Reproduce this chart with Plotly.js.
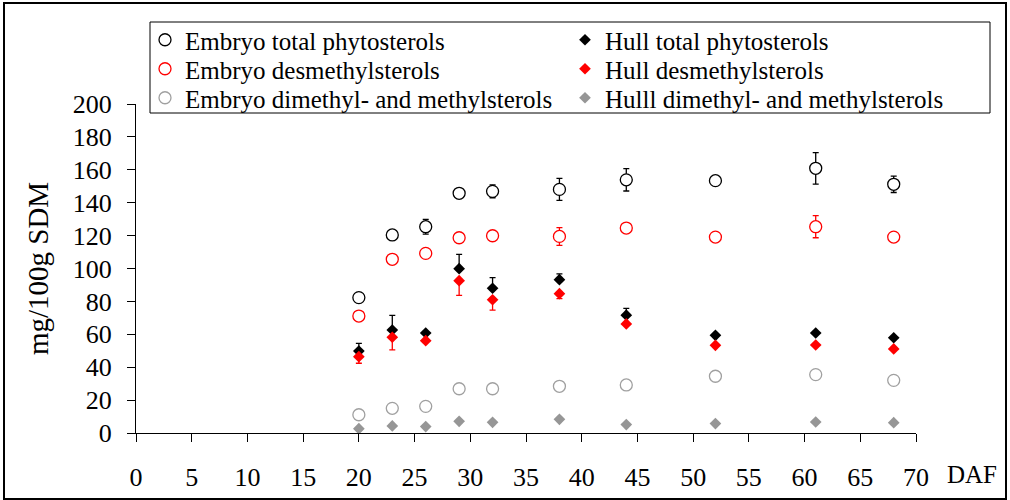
<!DOCTYPE html>
<html>
<head>
<meta charset="utf-8">
<script src="https://cdn.plot.ly/plotly-3.0.1.min.js"></script>
<style>html,body{margin:0;padding:0;background:#fff;}#chart{width:1010px;height:500px;}</style>
</head>
<body>
<div id="chart"></div>
<script>
// ---- data ----
var daf = [20, 23, 26, 29, 32, 38, 44, 52, 61, 68];

var embryoTotal      = [82.3, 120.4, 125.4, 145.7, 146.9, 148.1, 153.9, 153.4, 160.9, 151.2];
var embryoTotalErr   = [0, 0, 4.5, 0, 3.9, 6.7, 6.8, 0, 9.6, 5.0];

var embryoDesm       = [71.1, 105.6, 109.2, 118.7, 119.9, 119.5, 124.6, 119.1, 125.4, 119.1];
var embryoDesmErr    = [0, 0, 0, 0, 0, 5.4, 0, 0, 6.7, 0];

var embryoDim        = [11.1, 15.0, 16.2, 26.9, 26.9, 28.4, 29.2, 34.5, 35.5, 32.0];

var hullTotal        = [49.8, 62.6, 60.8, 99.9, 88.0, 93.2, 71.6, 59.4, 60.8, 57.9];
var hullTotalErr     = [4.7, 8.9, 0, 8.7, 6.5, 3.5, 4.2, 0, 0, 0];

var hullDesm         = [46.4, 58.2, 56.1, 92.6, 81.0, 84.7, 66.3, 53.3, 53.5, 51.1];
var hullDesmErr      = [4.0, 7.7, 0, 8.9, 6.3, 3.0, 0, 0, 0, 0];

var hullDim          = [2.6, 4.3, 3.9, 7.1, 6.5, 8.3, 5.1, 5.7, 6.7, 6.3];

var zeros = daf.map(function(){ return 0; });

var names = [
  "Embryo total phytosterols",
  "Hull total phytosterols",
  "Embryo desmethylsterols",
  "Hull desmethylsterols",
  "Embryo dimethyl- and methylsterols",
  "Hulll dimethyl- and methylsterols"
];
var xTickVals = [0,5,10,15,20,25,30,35,40,45,50,55,60,65,70];
var yTickVals = [0,20,40,60,80,100,120,140,160,180,200];

// ---- styling ----
var RED = "#ff0000", GRAY = "#a0a0a0", GRAYD = "#969696";
var FONT = "Liberation Serif";

function circle(name, y, color, err, leg) {
  var t = {
    type: "scatter", mode: "markers", name: name, x: daf, y: y, legend: leg,
    marker: { symbol: "circle", size: 12, color: "#ffffff", line: { color: color, width: 1.3 } }
  };
  if (err) t.error_y = { type: "data", array: err, symmetric: true, color: color, thickness: 1.3, width: 3 };
  return t;
}
function diamond(name, y, color, up, down, leg) {
  var t = {
    type: "scatter", mode: "markers", name: name, x: daf, y: y, legend: leg,
    marker: { symbol: "diamond", size: 9, color: color, line: { width: 0 } }
  };
  if (up || down) t.error_y = { type: "data", symmetric: false, array: up || zeros, arrayminus: down || zeros,
                                color: color, thickness: 1.3, width: 3 };
  return t;
}

var data = [
  circle(names[0], embryoTotal, "#000000", embryoTotalErr, "legend"),
  diamond(names[1], hullTotal, "#000000", hullTotalErr, null, "legend2"),
  circle(names[2], embryoDesm, RED, embryoDesmErr, "legend3"),
  diamond(names[3], hullDesm, RED, null, hullDesmErr, "legend4"),
  circle(names[4], embryoDim, GRAY, null, "legend5"),
  diamond(names[5], hullDim, GRAYD, null, null, "legend6")
];

// plot area in pixels: x 136..916, y 104..433
var L = 136, R = 916, T = 104, B = 433;
function px(xp) { return (xp - L) / (R - L); }
function py(yp) { return (B - yp) / (B - T); }

function legendAt(xpix, ypix) {
  return {
    orientation: "v", xref: "paper", yref: "paper",
    x: px(xpix), y: py(ypix), xanchor: "left", yanchor: "middle",
    borderwidth: 0, bgcolor: "rgba(0,0,0,0)", tracegroupgap: 0,
    font: { family: FONT, size: 25, color: "#000000" },
    itemclick: false, itemdoubleclick: false
  };
}

var layout = {
  width: 1010, height: 500,
  margin: { l: L, r: 1010 - R, t: T, b: 500 - B, pad: 0, autoexpand: false },
  paper_bgcolor: "#ffffff", plot_bgcolor: "#ffffff",
  font: { family: FONT, color: "#000000", size: 24 },
  showlegend: true,
  legend:  legendAt(145, 40),
  legend2: legendAt(565, 40),
  legend3: legendAt(145, 69),
  legend4: legendAt(565, 69),
  legend5: legendAt(145, 98),
  legend6: legendAt(565, 98),
  xaxis: {
    range: [0, 70], tickmode: "array", tickvals: xTickVals, ticktext: xTickVals.map(String),
    showgrid: false, zeroline: false, showline: true, linecolor: "#000000", linewidth: 1,
    ticks: "outside", ticklen: 8, tickcolor: "#000000", tickwidth: 1,
    tickfont: { family: FONT, size: 26, color: "#000000" },
    ticklabelstandoff: 13, automargin: false, fixedrange: true
  },
  yaxis: {
    range: [0, 200], tickmode: "array", tickvals: yTickVals, ticktext: yTickVals.map(String),
    showgrid: false, zeroline: false, showline: true, linecolor: "#000000", linewidth: 1,
    ticks: "outside", ticklen: 8, tickcolor: "#000000", tickwidth: 1,
    tickfont: { family: FONT, size: 26, color: "#000000" },
    ticklabelstandoff: 10, automargin: false, fixedrange: true,
    title: { text: "mg/100g SDM", font: { family: FONT, size: 29, color: "#000000" }, standoff: 15 }
  },
  annotations: [{
    text: "DAF", xref: "paper", yref: "paper", x: px(972), y: py(474),
    xanchor: "center", yanchor: "middle", showarrow: false,
    font: { family: FONT, size: 25, color: "#000000" }
  }],
  shapes: [
    { type: "rect", xref: "paper", yref: "paper",
      x0: px(4), x1: px(1006), y0: py(499), y1: py(3),
      line: { color: "#000000", width: 2 }, fillcolor: "rgba(0,0,0,0)", layer: "below" },
    { type: "rect", xref: "paper", yref: "paper",
      x0: px(150), x1: px(990), y0: py(113), y1: py(22),
      line: { color: "#000000", width: 1 }, fillcolor: "#ffffff", layer: "above" }
  ]
};

Plotly.newPlot("chart", data, layout, { displayModeBar: false, staticPlot: true });
</script>
</body>
</html>
